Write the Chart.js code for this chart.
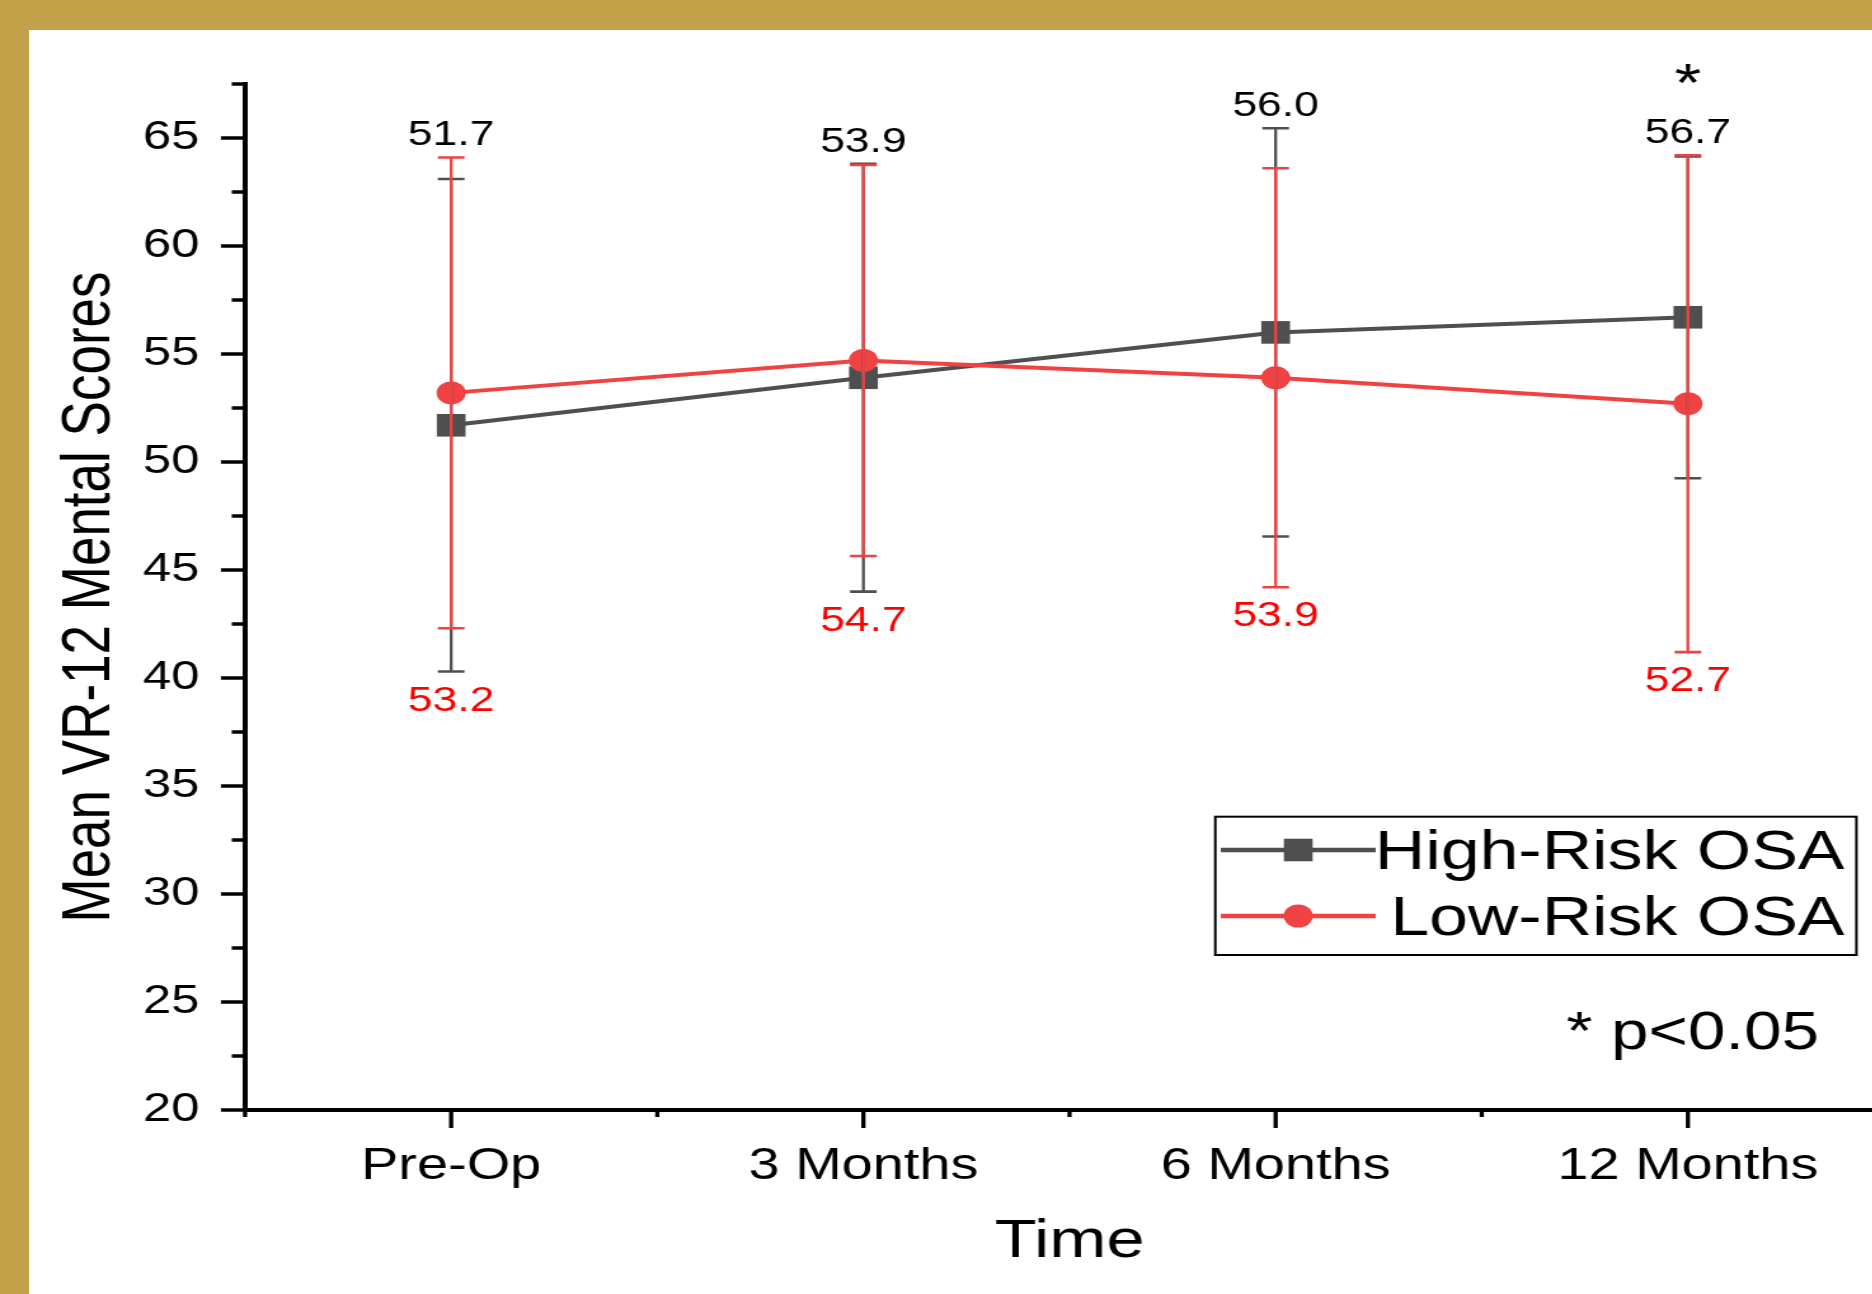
<!DOCTYPE html>
<html>
<head>
<meta charset="utf-8">
<title>Mean VR-12 Mental Scores over time</title>
<script src="https://cdn.jsdelivr.net/npm/chart.js@4.4.1/dist/chart.umd.min.js"></script>
<style>
  html, body { margin: 0; padding: 0; background: #fff; overflow: hidden; width: 1872px; height: 1294px; }
  #wrap { position: relative; width: 1872px; height: 1294px; overflow: hidden; background: #fff; }
  #chart { position: absolute; left: 0; top: 0; }
  .frame { position: absolute; background: #C4A24A; z-index: 2; }
</style>
</head>
<body>
<div id="wrap">
  <canvas id="chart" width="1491" height="1294"></canvas>
  <div class="frame" style="left:0;top:0;width:1872px;height:30px"></div>
  <div class="frame" style="left:0;top:0;width:29px;height:1294px"></div>
</div>
<script>
// ---- data ----
const timepoints   = ['Pre-Op', '3 Months', '6 Months', '12 Months'];
const seriesNames  = ['High-Risk OSA', 'Low-Risk OSA'];
const highRiskMean = [51.7, 53.9, 56.0, 56.7];
const highRiskSD   = [11.4, 9.9, 9.45, 7.45];
const lowRiskMean  = [53.2, 54.7, 53.9, 52.7];
const lowRiskSD    = [10.9, 9.05, 9.7, 11.5];
const significantIdx = [3];          // time points flagged with *
const pNote = '* p<0.05';

// ---- styling ----
const FONT = '"Liberation Sans", Arial, Helvetica, sans-serif';
const STRETCH = 1.27;                 // horizontal display stretch of the canvas
const GRAY = '#4F4F4F';
const RED = '#F04242';
const RED_TEXT = '#FF0000';

const canvas = document.getElementById('chart');
canvas.style.width = (canvas.width * STRETCH) + 'px';
canvas.style.height = canvas.height + 'px';

Chart.defaults.font.family = FONT;
Chart.defaults.color = '#000';

const toPoints = arr => arr.map((v, i) => ({ x: i + 1, y: v }));
const isWhole = v => Math.abs(v - Math.round(v)) < 1e-6;

// Tick marks: long at labelled values, short in between
const axisTicks = {
  id: 'axisTicks',
  afterDraw(chart) {
    const { ctx, chartArea, scales: { x, y } } = chart;
    ctx.save();
    ctx.strokeStyle = '#000';
    ctx.lineCap = 'butt';
    ctx.lineWidth = 3.5;
    y.ticks.forEach(t => {
      const py = y.getPixelForValue(t.value);
      const len = isWhole(t.value / 5) ? 19 : 10.5;
      ctx.beginPath();
      ctx.moveTo(chartArea.left, py);
      ctx.lineTo(chartArea.left - len, py);
      ctx.stroke();
    });
    ctx.lineWidth = 3.3;
    x.ticks.forEach(t => {
      const px = x.getPixelForValue(t.value);
      const len = isWhole(t.value) ? 18 : 7;
      ctx.beginPath();
      ctx.moveTo(px, chartArea.bottom);
      ctx.lineTo(px, chartArea.bottom + len);
      ctx.stroke();
    });
    ctx.restore();
  }
};

// Mean ± SD whiskers
const errorBars = {
  id: 'errorBars',
  afterDatasetsDraw(chart) {
    const { ctx, scales: { x, y } } = chart;
    ctx.save();
    chart.data.datasets.forEach(ds => {
      ctx.strokeStyle = ds.errColor;
      ds.data.forEach((p, i) => {
        const px = x.getPixelForValue(p.x);
        const top = y.getPixelForValue(p.y + ds.sd[i]);
        const bot = y.getPixelForValue(p.y - ds.sd[i]);
        ctx.lineWidth = 2.3;
        ctx.beginPath();
        ctx.moveTo(px, top);
        ctx.lineTo(px, bot);
        ctx.stroke();
        ctx.lineWidth = 2.6;
        ctx.beginPath();
        ctx.moveTo(px - 10.5, top); ctx.lineTo(px + 10.5, top);
        ctx.moveTo(px - 10.5, bot); ctx.lineTo(px + 10.5, bot);
        ctx.stroke();
      });
    });
    ctx.restore();
  }
};

// Value labels, significance mark, note and legend box
const annotations = {
  id: 'annotations',
  afterDraw(chart) {
    const { ctx, scales: { x, y } } = chart;
    const sets = chart.data.datasets;
    ctx.save();
    ctx.textAlign = 'center';
    ctx.textBaseline = 'alphabetic';
    timepoints.forEach((_, i) => {
      const px = x.getPixelForValue(i + 1);
      const highest = Math.min(...sets.map(ds => y.getPixelForValue(ds.data[i].y + ds.sd[i])));
      const lowest = Math.max(...sets.map(ds => y.getPixelForValue(ds.data[i].y - ds.sd[i])));
      sets.forEach(ds => {
        ctx.fillStyle = ds.labelColor;
        ctx.font = '35px ' + FONT;
        const v = ds.data[i].y.toFixed(1);
        if (ds.labelSide === 'above') {
          const base = highest - 12;
          ctx.fillText(v, px, base);
          if (significantIdx.includes(i)) {
            ctx.font = '54px ' + FONT;
            ctx.fillStyle = '#000';
            ctx.fillText('*', px, base - 42);
          }
        } else {
          ctx.fillText(v, px, lowest + 39);
        }
      });
    });

    // significance note
    ctx.textAlign = 'left';
    ctx.fillStyle = '#000';
    ctx.font = '53px ' + FONT;
    ctx.fillText(pNote, 1233, 1049);

    // legend
    const box = { l: 956.7, t: 816.7, r: 1461.4, b: 955 };
    ctx.lineWidth = 2;
    ctx.strokeStyle = '#000';
    ctx.strokeRect(box.l, box.t, box.r - box.l, box.b - box.t);
    sets.forEach((ds, k) => {
      const rowY = 850 + k * 66;
      ctx.strokeStyle = ds.borderColor;
      ctx.lineWidth = 4.5;
      ctx.beginPath();
      ctx.moveTo(961, rowY);
      ctx.lineTo(1083, rowY);
      ctx.stroke();
      ctx.fillStyle = ds.pointBackgroundColor;
      Chart.helpers.drawPoint(ctx, { pointStyle: ds.pointStyle, radius: ds.pointRadius, borderWidth: 0, rotation: 0 }, 1022, rowY);
      ctx.fillStyle = '#000';
      ctx.font = '55px ' + FONT;
      ctx.textAlign = 'right';
      ctx.fillText(ds.label, 1452, rowY + 19);
    });
    ctx.restore();
  }
};

new Chart(canvas, {
  type: 'line',
  data: {
    datasets: [
      {
        label: seriesNames[0],
        data: toPoints(highRiskMean),
        sd: highRiskSD,
        errColor: GRAY,
        labelColor: '#000',
        labelSide: 'above',
        borderColor: GRAY,
        borderWidth: 4,
        pointStyle: 'rect',
        pointRadius: 16,
        pointHoverRadius: 16,
        pointBackgroundColor: GRAY,
        pointBorderWidth: 0,
        tension: 0,
        order: 1
      },
      {
        label: seriesNames[1],
        data: toPoints(lowRiskMean),
        sd: lowRiskSD,
        errColor: RED,
        labelColor: RED_TEXT,
        labelSide: 'below',
        borderColor: RED,
        borderWidth: 4,
        pointStyle: 'circle',
        pointRadius: 11.5,
        pointHoverRadius: 11.5,
        pointBackgroundColor: RED,
        pointBorderWidth: 0,
        tension: 0,
        order: 0
      }
    ]
  },
  options: {
    responsive: false,
    devicePixelRatio: 1,
    animation: false,
    events: [],
    layout: { autoPadding: false, padding: { top: 84, left: 0, right: 0, bottom: 0 } },
    plugins: { legend: { display: false }, tooltip: { enabled: false } },
    scales: {
      x: {
        type: 'linear',
        min: 0.5,
        max: 4.5,
        grid: { drawOnChartArea: false, drawTicks: false },
        border: { display: true, color: '#000', width: 4 },
        ticks: {
          stepSize: 0.5,
          autoSkip: false,
          maxRotation: 0,
          padding: 30,
          color: '#000',
          font: { size: 44 },
          callback: v => isWhole(v) ? timepoints[Math.round(v) - 1] : ''
        },
        title: { display: true, text: 'Time', color: '#000', font: { size: 54 }, padding: { top: 0, bottom: 19.5 } },
        afterFit: s => { s.height = 184; s.paddingLeft = 0; s.paddingRight = 0; }
      },
      y: {
        min: 20,
        max: 67.5,
        grid: { drawOnChartArea: false, drawTicks: false },
        border: { display: true, color: '#000', width: 4 },
        ticks: {
          stepSize: 2.5,
          autoSkip: false,
          padding: 36,
          color: '#000',
          font: { size: 40 },
          callback: v => isWhole(v / 5) ? String(v) : ''
        },
        title: { display: true, text: 'Mean VR-12 Mental Scores', color: '#000', font: { size: 53 }, padding: { top: 40, bottom: 0 } },
        afterFit: s => { s.width = 192.9; s.paddingTop = 0; s.paddingBottom = 0; }
      }
    }
  },
  plugins: [errorBars, axisTicks, annotations]
});
</script>
</body>
</html>
